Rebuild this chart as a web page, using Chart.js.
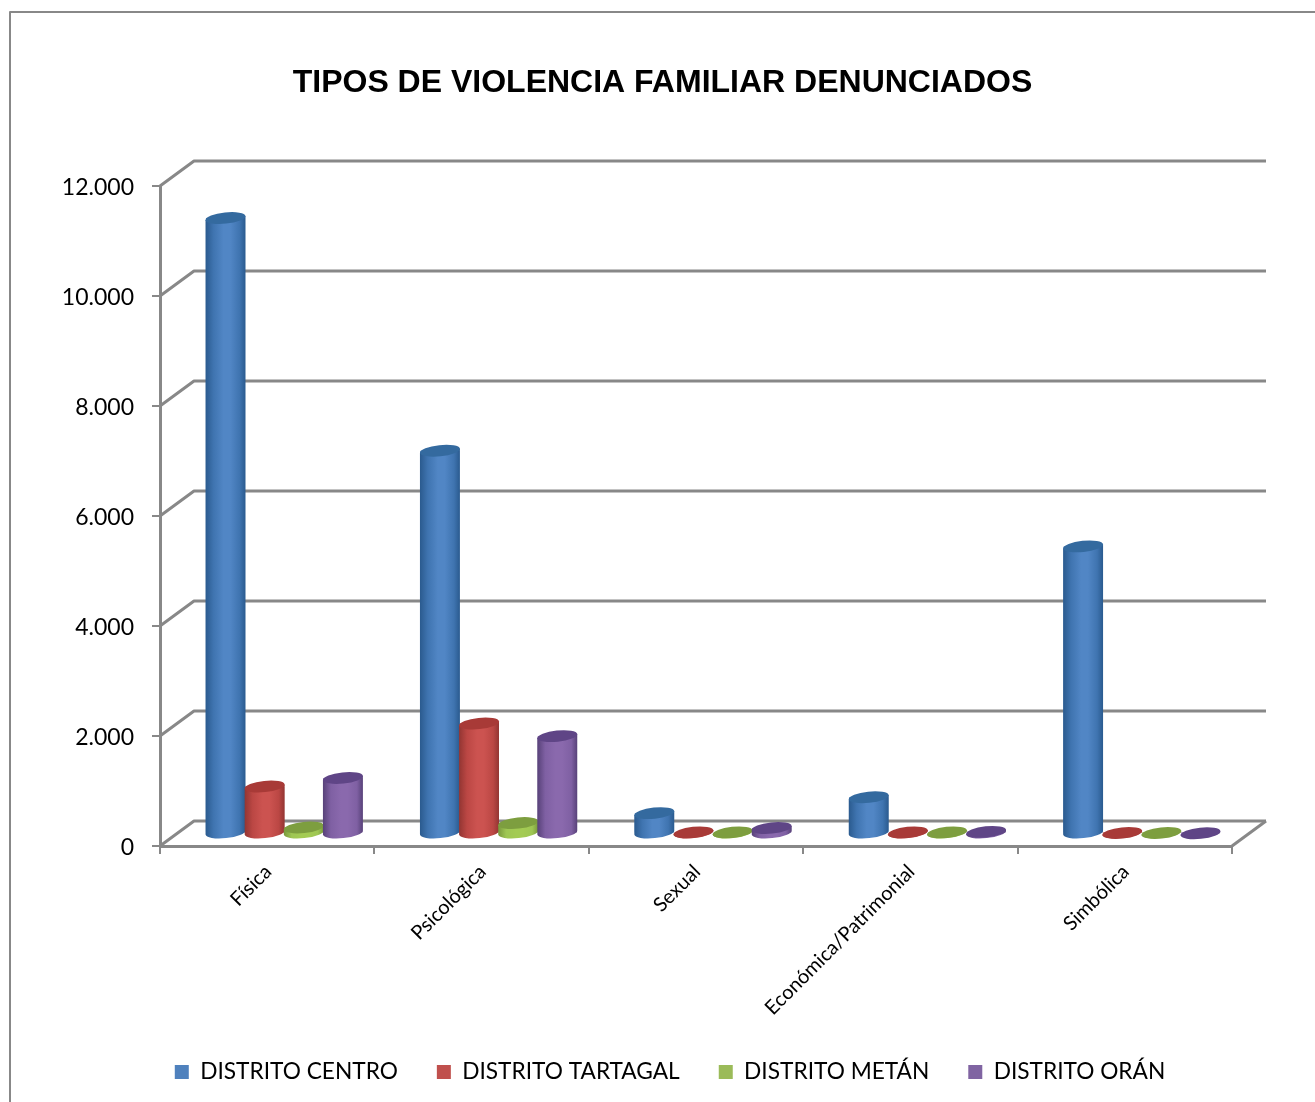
<!DOCTYPE html>
<html>
<head>
<meta charset="utf-8">
<style>html,body{margin:0;padding:0;background:#fff}canvas{display:block}</style>
<script src="https://cdn.jsdelivr.net/npm/chart.js@4"></script>
</head>
<body>
<div style="position:relative;width:1315px;height:1102px"><canvas id="c" width="1315" height="1102"></canvas></div>
<script>
const categories = ['Física','Psicológica','Sexual','Económica/Patrimonial','Simbólica'];
const yTickLabels = ['0','2.000','4.000','6.000','8.000','10.000','12.000'];
const centro   = [11190, 6960, 370, 660, 5220];
const tartagal = [855, 2000, 20, 20, 10];
const metan    = [110, 190, 20, 20, 10];
const oran     = [1010, 1770, 100, 30, 5];
const chartTitle = 'TIPOS DE VIOLENCIA FAMILIAR DENUNCIADOS';

const GRID = '#888888';
const DX = 34, DY = 25;           // depth of the back wall
const BAR_DX = 17, BAR_DY = 12.5; // bars stand mid-way on the floor
const RY = 5.6, TILT = -6 * Math.PI / 180;
const shades = [
  {base:'#4F81BD', edge:'#2a5a8e', mid:'#5186c5', top:'#346a9f', low:'#3f74b0'},
  {base:'#C0504D', edge:'#923532', mid:'#cc5350', top:'#a83a37', low:'#bb4744'},
  {base:'#9BBB59', edge:'#78973c', mid:'#a3cb53', top:'#7d9e3f', low:'#9ec653'},
  {base:'#8064A2', edge:'#574178', mid:'#8a69ad', top:'#5f4586', low:'#7f60a3'}
];

const scene = {
  id:'scene',
  afterLayout(chart){
    chart.titleBlock.left += 46.5; chart.titleBlock.right += 46.5;
    const l = chart.legend;
    l.left += 54; l.right += 54;
    const h = l.bottom - l.top;
    l.top = 1021.6; l.bottom = l.top + h;
  },
  beforeDatasetsDraw(chart){
    const c = chart.ctx, y = chart.scales.y, a = chart.chartArea;
    c.save();
    c.strokeStyle = GRID; c.lineJoin = 'round';
    // frame of the chart object
    c.beginPath(); c.moveTo(10,1102); c.lineTo(10,12); c.lineTo(1315,12); c.lineWidth = 2; c.stroke();
    c.lineWidth = 3;
    y.ticks.forEach(t => {
      const p = y.getPixelForValue(t.value);
      c.beginPath(); c.moveTo(a.left,p); c.lineTo(a.left+DX,p-DY); c.lineTo(a.right+DX,p-DY); c.stroke();
    });
    const p0 = y.getPixelForValue(0);
    c.beginPath(); c.moveTo(a.right,p0); c.lineTo(a.right+DX,p0-DY); c.stroke();
    c.restore();
    c.save();
    c.translate(BAR_DX,-BAR_DY);
  },
  afterDatasetsDraw(chart){
    const c = chart.ctx;
    c.restore();
    c.save();
    c.translate(BAR_DX,-BAR_DY);
    const n = categories.length;
    for (let j = 0; j < n; j++) {
      chart.data.datasets.forEach((ds,i) => {
        const el = chart.getDatasetMeta(i).data[j], s = shades[i];
        const rx = el.width/2 + 0.5, cx = el.x, ty = el.y, by = el.base;
        const lx = rx*Math.cos(TILT), ly = rx*Math.sin(TILT);
        const g = c.createLinearGradient(cx-rx,0,cx+rx,0);
        g.addColorStop(0,s.edge); g.addColorStop(0.2,s.low); g.addColorStop(0.45,s.mid);
        g.addColorStop(0.62,s.mid); g.addColorStop(0.85,s.low); g.addColorStop(1,s.edge);
        c.fillStyle = g;
        c.beginPath();
        c.moveTo(cx-lx,ty-ly);
        c.lineTo(cx-lx,by-ly);
        c.ellipse(cx,by,rx,RY,TILT,Math.PI,0,true);
        c.lineTo(cx+lx,ty+ly);
        c.closePath();
        c.fill();
        c.fillStyle = s.top;
        c.beginPath();
        c.ellipse(cx,ty,rx,RY,TILT,0,2*Math.PI);
        c.fill();
      });
    }
    c.restore();
  }
};

const mk = (label,data,i) => ({label,data,backgroundColor:shades[i].base,borderWidth:0,clip:false});

new Chart(document.getElementById('c'),{
  type:'bar',
  data:{labels:categories,datasets:[
    mk('DISTRITO CENTRO',centro,0),
    mk('DISTRITO TARTAGAL',tartagal,1),
    mk('DISTRITO METÁN',metan,2),
    mk('DISTRITO ORÁN',oran,3)
  ]},
  plugins:[scene],
  options:{
    responsive:false,animation:false,
    layout:{padding:{left:0,right:83,top:0,bottom:0}},
    datasets:{bar:{barPercentage:1,categoryPercentage:0.73}},
    plugins:{
      tooltip:{enabled:false},
      title:{display:true,text:chartTitle,color:'#000',
        font:{family:'"Liberation Sans"',size:32,weight:'bold'},
        padding:{top:64,bottom:83.6}},
      legend:{position:'bottom',
        labels:{color:'#000',boxWidth:14,boxHeight:14,padding:39,
          font:{family:'Lato',size:22.7}}}
    },
    scales:{
      x:{offset:true,
        afterFit(s){s.height=256-s.chart.legend.height;},
        grid:{offset:true,drawOnChartArea:false,color:GRID,lineWidth:2,tickLength:8,drawTicks:true},
        border:{color:GRID,width:3},
        ticks:{autoSkip:false,minRotation:45,maxRotation:45,labelOffset:1,padding:6,color:'#000',
          font:{family:'Lato',size:19.9}}
      },
      y:{min:0,max:12000,
        afterFit(s){s.width=160;},
        grid:{drawOnChartArea:false,color:GRID,lineWidth:2,tickLength:8},
        border:{color:GRID,width:3},
        ticks:{stepSize:2000,padding:18,labelOffset:2,color:'#000',
          callback:(v,i)=>yTickLabels[i],
          font:{family:'Lato',size:23}}
      }
    }
  }
});
</script>
</body>
</html>
